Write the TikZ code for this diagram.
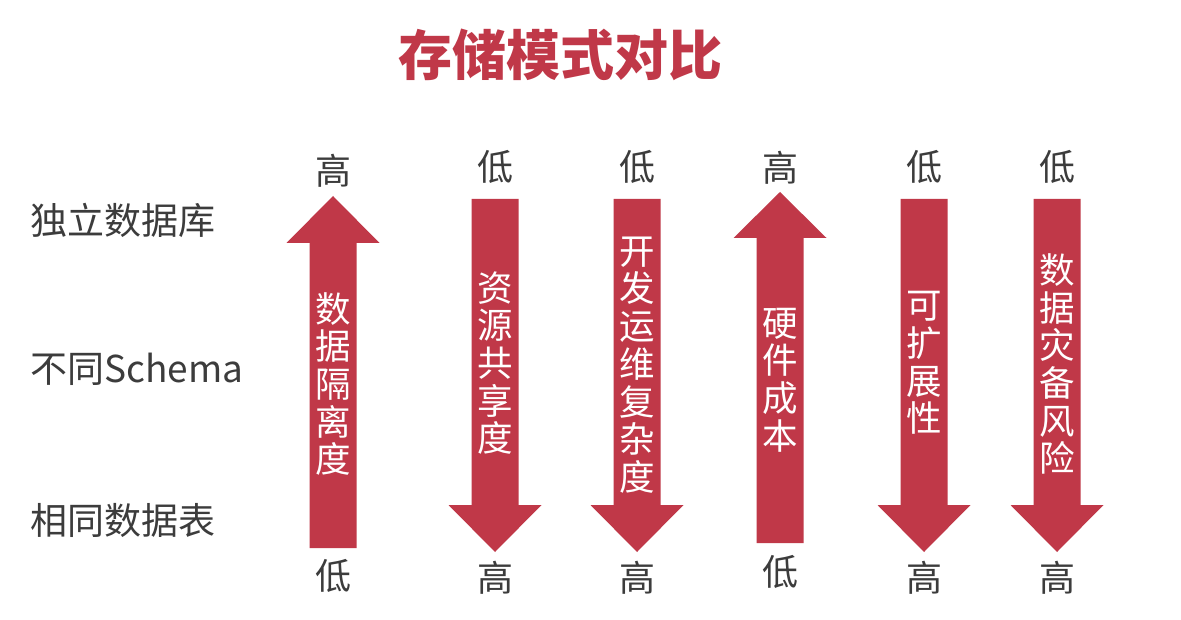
\documentclass[tikz,border=0pt]{standalone}
\usepackage{fontspec}
\setmainfont{Noto Sans CJK SC}
\definecolor{barred}{RGB}{192,56,72}
\definecolor{textgray}{RGB}{60,60,60}
\newcommand\arrowup[4]{\fill[bar] (#1-23.5,#4) -- (#1-23.5,#3) -- (#1-46.5,#3) -- (#1,#2) -- (#1+46.5,#3) -- (#1+23.5,#3) -- (#1+23.5,#4) -- cycle;}
\newcommand\arrowdown[4]{\fill[bar] (#1-23.5,#2) -- (#1-23.5,#3) -- (#1-46.5,#3) -- (#1,#4) -- (#1+46.5,#3) -- (#1+23.5,#3) -- (#1+23.5,#2) -- cycle;}
\begin{document}
\begin{tikzpicture}[x=1pt, y=-1pt, inner sep=0pt,
  bar/.style={fill=barred},
  level/.style={text=textgray, font=\fontsize{36}{40}\selectfont},
  rowlabel/.style={text=textgray, anchor=west, font=\fontsize{37}{42}\selectfont},
  inlabel/.style={text=white, align=center, font=\fontsize{35.5}{37.7}\selectfont}]
\useasboundingbox[fill=white] (0,0) rectangle (1181,620);
\node[text=barred, font=\fontsize{54}{60}\selectfont\bfseries] (title) at (560,55) {存储模式对比};
% rows
\node[rowlabel] (rowdb) at (30,220) {独立数据库};
\node[rowlabel] (rowschema) at (30,369) {不同Schema};
\node[rowlabel] (rowtable) at (30,520) {相同数据表};
% arrows
\arrowup{333}{196}{243}{548}
\arrowdown{495}{199}{505}{552}
\arrowdown{637}{199}{505}{552}
\arrowup{780}{192}{238}{543}
\arrowdown{924}{199}{505}{552}
\arrowdown{1057}{199}{505}{552}
% texts in arrows
\node[inlabel] (isolation) at (333,384) {数\\据\\隔\\离\\度};
\node[inlabel] (sharing) at (495,363) {资\\源\\共\\享\\度};
\node[inlabel] (devops) at (637,365) {开\\发\\运\\维\\复\\杂\\度};
\node[inlabel] (hardware) at (780,380) {硬\\件\\成\\本};
\node[inlabel] (scaling) at (924,363) {可\\扩\\展\\性};
\node[inlabel] (disaster) at (1057,364) {数\\据\\灾\\备\\风\\险};
% high / low
\node[level] (isotop) at (333,171) {高}; \node[level] (isobot) at (333,576) {低};
\node[level] (shatop) at (495,167) {低}; \node[level] (shabot) at (495,578) {高};
\node[level] (devtop) at (637,167) {低}; \node[level] (devbot) at (637,578) {高};
\node[level] (hartop) at (780,168) {高}; \node[level] (harbot) at (780,572) {低};
\node[level] (scatop) at (924,167) {低}; \node[level] (scabot) at (924,578) {高};
\node[level] (distop) at (1057,167) {低}; \node[level] (disbot) at (1057,578) {高};
\end{tikzpicture}
\end{document}
